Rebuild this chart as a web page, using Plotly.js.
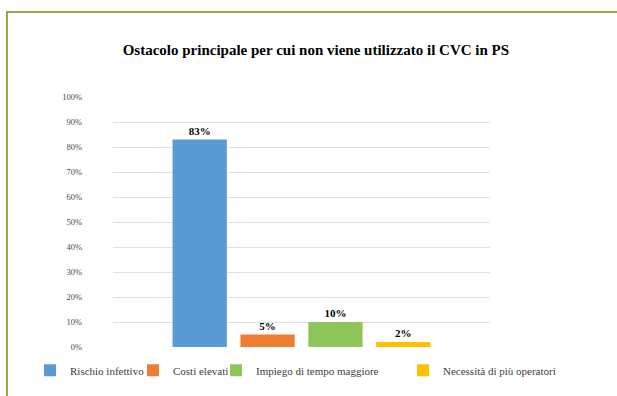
<!DOCTYPE html>
<html>
<head>
<meta charset="utf-8">
<script src="https://cdn.plot.ly/plotly-3.0.1.min.js"></script>
<style>
  html, body { margin: 0; padding: 0; background: #ffffff; }
  #wrap { position: relative; width: 617px; height: 396px; overflow: hidden; }
  #frame { position: absolute; left: 6px; top: 11px; width: 640px; height: 420px;
           border-left: 2px solid #9ea447; border-top: 2px solid #9ea447; box-sizing: border-box; pointer-events: none; }
  #chart { position: absolute; left: 0; top: 0; width: 617px; height: 396px; }
</style>
</head>
<body>
<div id="wrap">
  <div id="chart"></div>
  <div id="frame"></div>
</div>
<script>
const category = ["Ostacolo"];
const seriesNames = ["Rischio infettivo", "Costi elevati", "Impiego di tempo maggiore", "Necessità di più operatori"];
const seriesValues = [83, 5, 10, 2];
const seriesColors = ["#5b9bd5", "#ed7d31", "#8fc65a", "#ffc000"];
const yTickVals = [0, 10, 20, 30, 40, 50, 60, 70, 80, 90, 100];
const yTickText = ["0%", "10%", "20%", "30%", "40%", "50%", "60%", "70%", "80%", "90%", "100%"];

const serif = "Liberation Serif, Times New Roman, serif";
const legendIds = ["legend", "legend2", "legend3", "legend4"];
// pixel position of each legend entry's left edge (layout only)
const legendLeftPx = [30, 133, 216, 403];

const traces = seriesNames.map((name, i) => ({
  type: "bar",
  name: name,
  legend: legendIds[i],
  x: category,
  y: [seriesValues[i]],
  marker: { color: seriesColors[i] },
  text: [seriesValues[i] + "%"],
  textposition: "outside",
  textfont: { family: serif, size: 11, color: "#000000", weight: "bold" },
  cliponaxis: false,
  hoverinfo: "skip"
}));

const margin = { l: 113, r: 127, t: 97, b: 49, autoexpand: false };
const plotW = 617 - margin.l - margin.r;

const layout = {
  width: 617,
  height: 396,
  margin: margin,
  paper_bgcolor: "#ffffff",
  plot_bgcolor: "#ffffff",
  font: { family: serif, color: "#404040" },
  title: {
    text: "<b>Ostacolo principale per cui non viene utilizzato il CVC in PS</b>",
    font: { family: serif, size: 15, color: "#000000" },
    x: 0.512, xanchor: "center",
    y: 0.874, yanchor: "middle"
  },
  barmode: "group",
  bargap: 0.28,
  bargroupgap: 0.2,
  xaxis: {
    showticklabels: false,
    showgrid: false,
    zeroline: false,
    showline: false,
    ticks: ""
  },
  yaxis: {
    range: [0, 100],
    tickvals: yTickVals,
    ticktext: yTickText,
    tickfont: { family: serif, size: 8.5, color: "#4a4a4a" },
    showgrid: true,
    gridcolor: "#e0e0e0",
    gridwidth: 1,
    zeroline: false,
    showline: false,
    ticks: "",
    ticklabelstandoff: 30
  },
  showlegend: true
};

legendIds.forEach((id, i) => {
  layout[id] = {
    orientation: "h",
    x: (legendLeftPx[i] - margin.l) / plotW, xanchor: "left",
    y: -0.035, yanchor: "top",
    font: { family: serif, size: 11, color: "#404040" },
    itemwidth: 30,
    bgcolor: "rgba(0,0,0,0)"
  };
});

Plotly.newPlot("chart", traces, layout, { displayModeBar: false, staticPlot: true });
</script>
</body>
</html>
